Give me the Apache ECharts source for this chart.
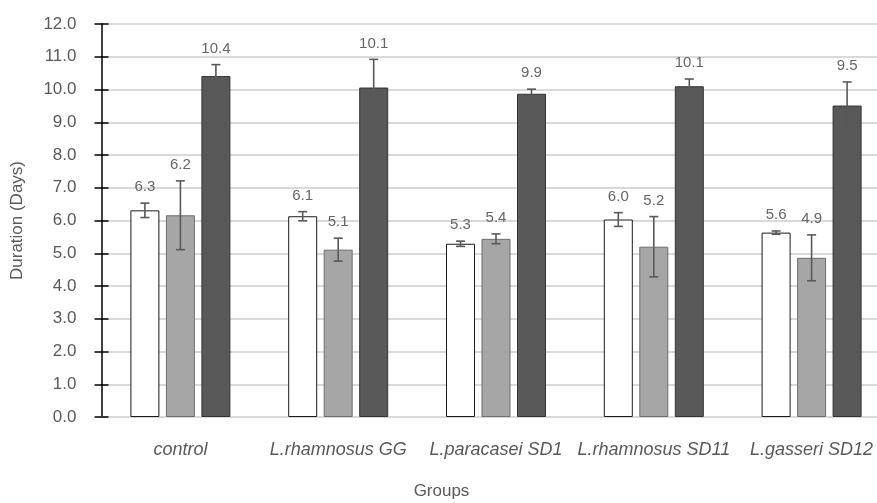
<!DOCTYPE html>
<html>
<head>
<meta charset="utf-8">
<script src="https://cdn.jsdelivr.net/npm/echarts@6/dist/echarts.min.js"></script>
<style>html,body{margin:0;padding:0;background:#fff;}#c{width:877px;height:503px;}</style>
</head>
<body>
<div id="c"></div>
<script>
var categories = ['control', 'L.rhamnosus GG', 'L.paracasei SD1', 'L.rhamnosus SD11', 'L.gasseri SD12'];
var seriesA = [6.31, 6.13, 5.29, 6.03, 5.63];
var seriesB = [6.16, 5.11, 5.44, 5.20, 4.86];
var seriesC = [10.41, 10.06, 9.87, 10.10, 9.51];
var errA = [0.22, 0.14, 0.08, 0.21, 0.05];
var errB = [1.05, 0.35, 0.15, 0.92, 0.70];
var errC = [0.35, 0.86, 0.14, 0.22, 0.72];
var yTicks = [0, 1, 2, 3, 4, 5, 6, 7, 8, 9, 10, 11, 12];

var FONT = '"Liberation Sans", Arial, sans-serif';
var BAR_W = 29, BAR_GAP = 6.5;
var valueSets = [seriesA, seriesB, seriesC];
var errSets = [errA, errB, errC];

var errData = [];
for (var s = 0; s < 3; s++) {
  for (var i = 0; i < categories.length; i++) {
    errData.push([i, valueSets[s][i], errSets[s][i], s]);
  }
}

var chart = echarts.init(document.getElementById('c'), null, {renderer: 'canvas'});
chart.setOption({
  backgroundColor: '#ffffff',
  animation: false,
  grid: {left: 101.5, width: 789, top: 24, bottom: 86, containLabel: false, outerBoundsMode: 'none'},
  xAxis: {
    type: 'category',
    data: categories,
    name: 'Groups',
    nameLocation: 'middle',
    nameGap: 66,
    nameTextStyle: {color: '#595959', fontSize: 17, fontFamily: FONT, padding: [0, 109, 0, 0]},
    axisLine: {show: true, lineStyle: {color: '#d9d9d9', width: 2}},
    axisTick: {show: false},
    axisLabel: {color: '#595959', fontSize: 18, fontStyle: 'italic', fontFamily: FONT, margin: 24, interval: 0},
    splitLine: {show: false}
  },
  yAxis: [{
    type: 'value',
    min: yTicks[0],
    max: yTicks[yTicks.length - 1],
    interval: 1,
    name: 'Duration (Days)',
    nameLocation: 'middle',
    nameGap: 76,
    nameTextStyle: {color: '#595959', fontSize: 17, fontFamily: FONT},
    axisLine: {show: true, lineStyle: {color: '#000000', width: 1.5}},
    axisTick: {show: true, length: 7, lineStyle: {color: '#000000', width: 1.5}},
    axisLabel: {color: '#595959', fontSize: 17, fontFamily: FONT, margin: 25,
      formatter: function (v) { return v.toFixed(1); }},
    splitLine: {show: true, lineStyle: {color: '#d9d9d9', width: 2}}
  }, {
    type: 'value',
    position: 'left',
    min: yTicks[0],
    max: yTicks[yTicks.length - 1],
    interval: 1,
    axisLine: {show: false},
    axisTick: {show: true, inside: true, length: 7, lineStyle: {color: '#000000', width: 1.5}},
    axisLabel: {show: false},
    splitLine: {show: false}
  }],
  series: [
    {type: 'bar', name: 'A', data: seriesA, barWidth: BAR_W, barGap: (BAR_GAP / BAR_W * 100) + '%',
      itemStyle: {color: '#ffffff', borderColor: '#1a1a1a', borderWidth: 1}},
    {type: 'bar', name: 'B', data: seriesB, barWidth: BAR_W,
      itemStyle: {color: '#a6a6a6', borderColor: '#6e6e6e', borderWidth: 1}},
    {type: 'bar', name: 'C', data: seriesC, barWidth: BAR_W,
      itemStyle: {color: '#595959', borderColor: '#333333', borderWidth: 1}},
    {
      type: 'custom',
      name: 'err',
      data: errData,
      z: 10,
      renderItem: function (params, api) {
        var cat = api.value(0), val = api.value(1), err = api.value(2), s = api.value(3);
        var off = (s - 1) * (BAR_W + BAR_GAP);
        var top = api.coord([cat, val + err]);
        var bot = api.coord([cat, val - err]);
        var x = top[0] + off;
        var cap = 4.5;
        var st = {stroke: '#595959', lineWidth: 1.6};
        return {
          type: 'group',
          children: [
            {type: 'line', shape: {x1: x, y1: top[1], x2: x, y2: bot[1]}, style: st},
            {type: 'line', shape: {x1: x - cap, y1: top[1], x2: x + cap, y2: top[1]}, style: st},
            {type: 'line', shape: {x1: x - cap, y1: bot[1], x2: x + cap, y2: bot[1]}, style: st},
            {type: 'text', x: x, y: top[1] - 16,
              style: {text: val.toFixed(1), textAlign: 'center', textVerticalAlign: 'middle',
                fill: '#666666', fontSize: 15, fontFamily: FONT}}
          ]
        };
      }
    }
  ]
});
</script>
</body>
</html>
